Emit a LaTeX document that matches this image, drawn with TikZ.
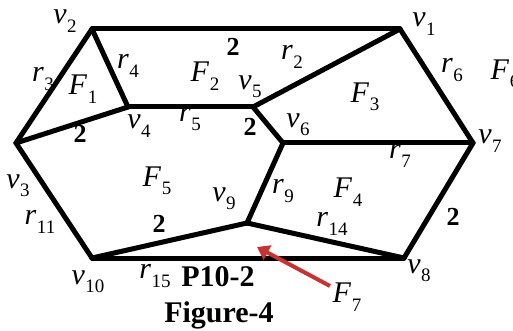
\documentclass[tikz,border=0pt]{standalone}
\usepackage{fontspec}
\setmainfont{Liberation Serif}
\usetikzlibrary{arrows.meta}
\newcommand\lbl[2]{\textit{#1}\kern0.5pt\raisebox{-0.28em}{\fontsize{19}{19}\selectfont #2}}
\begin{document}
\begin{tikzpicture}[x=1pt,y=-1pt,
  edge/.style={line width=5pt, line join=round, line cap=round},
  lab/.style={font=\fontsize{30}{30}\selectfont, inner sep=0pt},
  num/.style={font=\fontsize{26}{26}\selectfont\bfseries, inner sep=0pt},
  big/.style={font=\fontsize{30}{30}\selectfont\bfseries, inner sep=0pt},
  pointer/.style={line width=4pt, draw={rgb,255:red,200;green,50;blue,50}, -{Triangle[length=12pt,width=16pt]}}]
\useasboundingbox (0,0) rectangle (513,331);
% vertices
\coordinate (v1) at (400,29);
\coordinate (v2) at (92,29);
\coordinate (v3) at (16,143);
\coordinate (v4) at (128,107);
\coordinate (v5) at (253,107);
\coordinate (v6) at (283,143);
\coordinate (v7) at (473,143);
\coordinate (v8) at (404,258);
\coordinate (v9) at (247,223);
\coordinate (v10) at (92,258);
% edges
\draw[edge] (v2) -- (v1);
\draw[edge] (v2) -- (v3);
\draw[edge] (v2) -- (v4);
\draw[edge] (v3) -- (v4);
\draw[edge] (v4) -- (v5);
\draw[edge] (v5) -- (v1);
\draw[edge] (v5) -- (v6);
\draw[edge] (v6) -- (v7);
\draw[edge] (v1) -- (v7);
\draw[edge] (v7) -- (v8);
\draw[edge] (v6) -- (v9);
\draw[edge] (v9) -- (v8);
\draw[edge] (v9) -- (v10);
\draw[edge] (v3) -- (v10);
\draw[edge] (v10) -- (v8);
% labels
\node[lab] (lv1) at (424,24) {\lbl{v}{1}};
\node[lab] (lv2) at (65,21) {\lbl{v}{2}};
\node[lab] (lv3) at (18,186) {\lbl{v}{3}};
\node[lab] (lv4) at (139,126) {\lbl{v}{4}};
\node[lab] (lv5) at (250,87) {\lbl{v}{5}};
\node[lab] (lv6) at (298,125) {\lbl{v}{6}};
\node[lab] (lv7) at (490,141) {\lbl{v}{7}};
\node[lab] (lv8) at (419,271) {\lbl{v}{8}};
\node[lab] (lv9) at (224,199) {\lbl{v}{9}};
\node[lab] (lv10) at (88,282) {\lbl{v}{10}};
\node[lab] (r2) at (292,57) {\lbl{r}{2}};
\node[lab] (r3) at (43,79) {\lbl{r}{3}};
\node[lab] (r4) at (128,66) {\lbl{r}{4}};
\node[lab] (r5) at (190,119) {\lbl{r}{5}};
\node[lab] (r6) at (452,70) {\lbl{r}{6}};
\node[lab] (r7) at (400,156) {\lbl{r}{7}};
\node[lab] (r9) at (283,191) {\lbl{r}{9}};
\node[lab] (r11) at (40,222) {\lbl{r}{11}};
\node[lab] (r14) at (332,224) {\lbl{r}{14}};
\node[lab] (r15) at (155,276) {\lbl{r}{15}};
\node[lab] (F1) at (83,89) {\lbl{F}{1}};
\node[lab] (F2) at (205,76) {\lbl{F}{2}};
\node[lab] (F3) at (365,97) {\lbl{F}{3}};
\node[lab] (F4) at (348,192) {\lbl{F}{4}};
\node[lab] (F5) at (157,181) {\lbl{F}{5}};
\node[lab] (F6) at (505,74) {\lbl{F}{6}};
\node[lab] (F7) at (347,297) {\lbl{F}{7}};
\node[num] (w1) at (233,47) {2};
\node[num] (w2) at (80,134) {2};
\node[num] (w3) at (250,127) {2};
\node[num] (w4) at (159,224) {2};
\node[num] (w5) at (453,217) {2};
\node[big] (p) at (218,277) {P10-2};
\node[big] (fig) at (219,315) {Figure-4};
\coordinate (tail) at (330,286);
\coordinate (head) at (257,247);
\draw[pointer] (tail) -- (head);
\end{tikzpicture}
\end{document}
